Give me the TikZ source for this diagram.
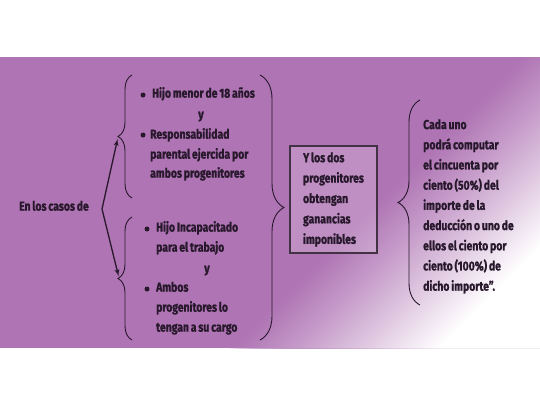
\documentclass[tikz,border=0pt]{standalone}
\usepackage{fontspec}
\setmainfont{Fira Sans}[FakeStretch=0.8, WordSpace=0.75, BoldFeatures={FakeBold=1.2}]
\usetikzlibrary{arrows,decorations.pathreplacing,positioning}
\definecolor{bandpurple}{RGB}{175,116,180}
\definecolor{textdark}{RGB}{40,24,44}
\definecolor{boxline}{RGB}{66,50,68}
\newcommand\groupfont{\fontsize{13}{20.4}\selectfont\bfseries}
\newcommand\resfont{\fontsize{13}{20.2}\selectfont\bfseries}
\tikzset{
item/.style={
  anchor=mid west,
  inner sep=0pt,
  font=\groupfont,
  text=textdark},
conj/.style={item, anchor=mid},
dot/.style={
  circle,
  fill=textdark,
  inner sep=0pt,
  minimum size=5pt},
curly/.style={
  draw=textdark,
  line width=0.9pt,
  decorate,
  decoration={brace, amplitude=#1}},
line/.style={draw=textdark, line width=1.3pt, latex'-latex', shorten <=2pt, shorten >=2pt},
condbox/.style={
  rectangle,
  draw=boxline,
  line width=1.2pt,
  fill=white,
  fill opacity=0.2,
  text opacity=1,
  text=textdark,
  font=\groupfont,
  align=left,
  minimum width=87pt,
  minimum height=107pt}
}
\begin{document}
\begin{tikzpicture}[x=1pt,y=-1pt]
    \useasboundingbox (0,0) rectangle (540,405);
    \fill[white] (0,0) rectangle (540,405);
    % purple band fading to white at the lower right
    \begin{scope}
      \clip (0,57) rectangle (540,348);
      \fill[bandpurple] (0,57) rectangle (540,348);
      \foreach \diag in {520,524,...,732} {
        \pgfmathsetmacro\fade{min(100,100*((\diag-520)/208)^1.1)}
        \fill[white!\fade!bandpurple] (\diag,57) -- (900,57) -- (900,348) -- (\diag-291,348) -- cycle;
      }
    \end{scope}
    % left label
    \node [item, anchor=mid] (casos) at (54,208) {En los casos de};
    % first group
    \node [dot] (d1) at (143,95) {};
    \node [item] (hijo) at (152,95) {Hijo menor de 18 años};
    \node [conj] (y1) at (201,116) {y};
    \node [dot] (d2) at (143,135) {};
    \node [item] (resp) at (150,136) {Responsabilidad};
    \node [item] (paren) at (150,156) {parental ejercida por};
    \node [item] (ambos) at (150,175) {ambos progenitores};
    % second group
    \node [dot] (d3) at (147,229) {};
    \node [item] (incap) at (156,229) {Hijo Incapacitado};
    \node [item] (trab) at (156,249) {para el trabajo};
    \node [conj] (y2) at (207,270) {y};
    \node [dot] (d4) at (147,289) {};
    \node [item] (amb) at (156,289) {Ambos};
    \node [item] (prog) at (156,309) {progenitores lo};
    \node [item] (cargo) at (156,329) {tengan a su cargo};
    % condition and result
    \node [condbox] (cond) at (333.5,199.5) {Y los dos\\progenitores\\obtengan\\ganancias\\imponibles};
    \node [item, font=\resfont, align=left, anchor=north west] (deduc) at (423,119) {Cada uno\\podrá computar\\el cincuenta por\\ciento (50\%) del\\importe de la\\deducción o uno de\\ellos el ciento por\\ciento (100\%) de\\dicho importe”.};
    % braces
    \coordinate (g1top) at (132,75);
    \coordinate (g1bot) at (132,198);
    \coordinate (g2top) at (132,217);
    \coordinate (g2bot) at (132,340);
    \coordinate (alltop) at (260,75);
    \coordinate (allbot) at (260,340);
    \coordinate (restop) at (420,100);
    \coordinate (resbot) at (420,305);
    \draw [curly=14] (g1bot) -- (g1top);
    \draw [curly=14] (g2bot) -- (g2top);
    \draw [curly=24] (alltop) -- (allbot);
    \draw [curly=22] (resbot) -- (restop);
    % double arrow
    \coordinate (tip1) at (118,137);
    \coordinate (bend) at (102,209);
    \coordinate (tip2) at (119,278);
    \path [line] (tip1) -- (bend) -- (tip2);
\end{tikzpicture}
\end{document}
